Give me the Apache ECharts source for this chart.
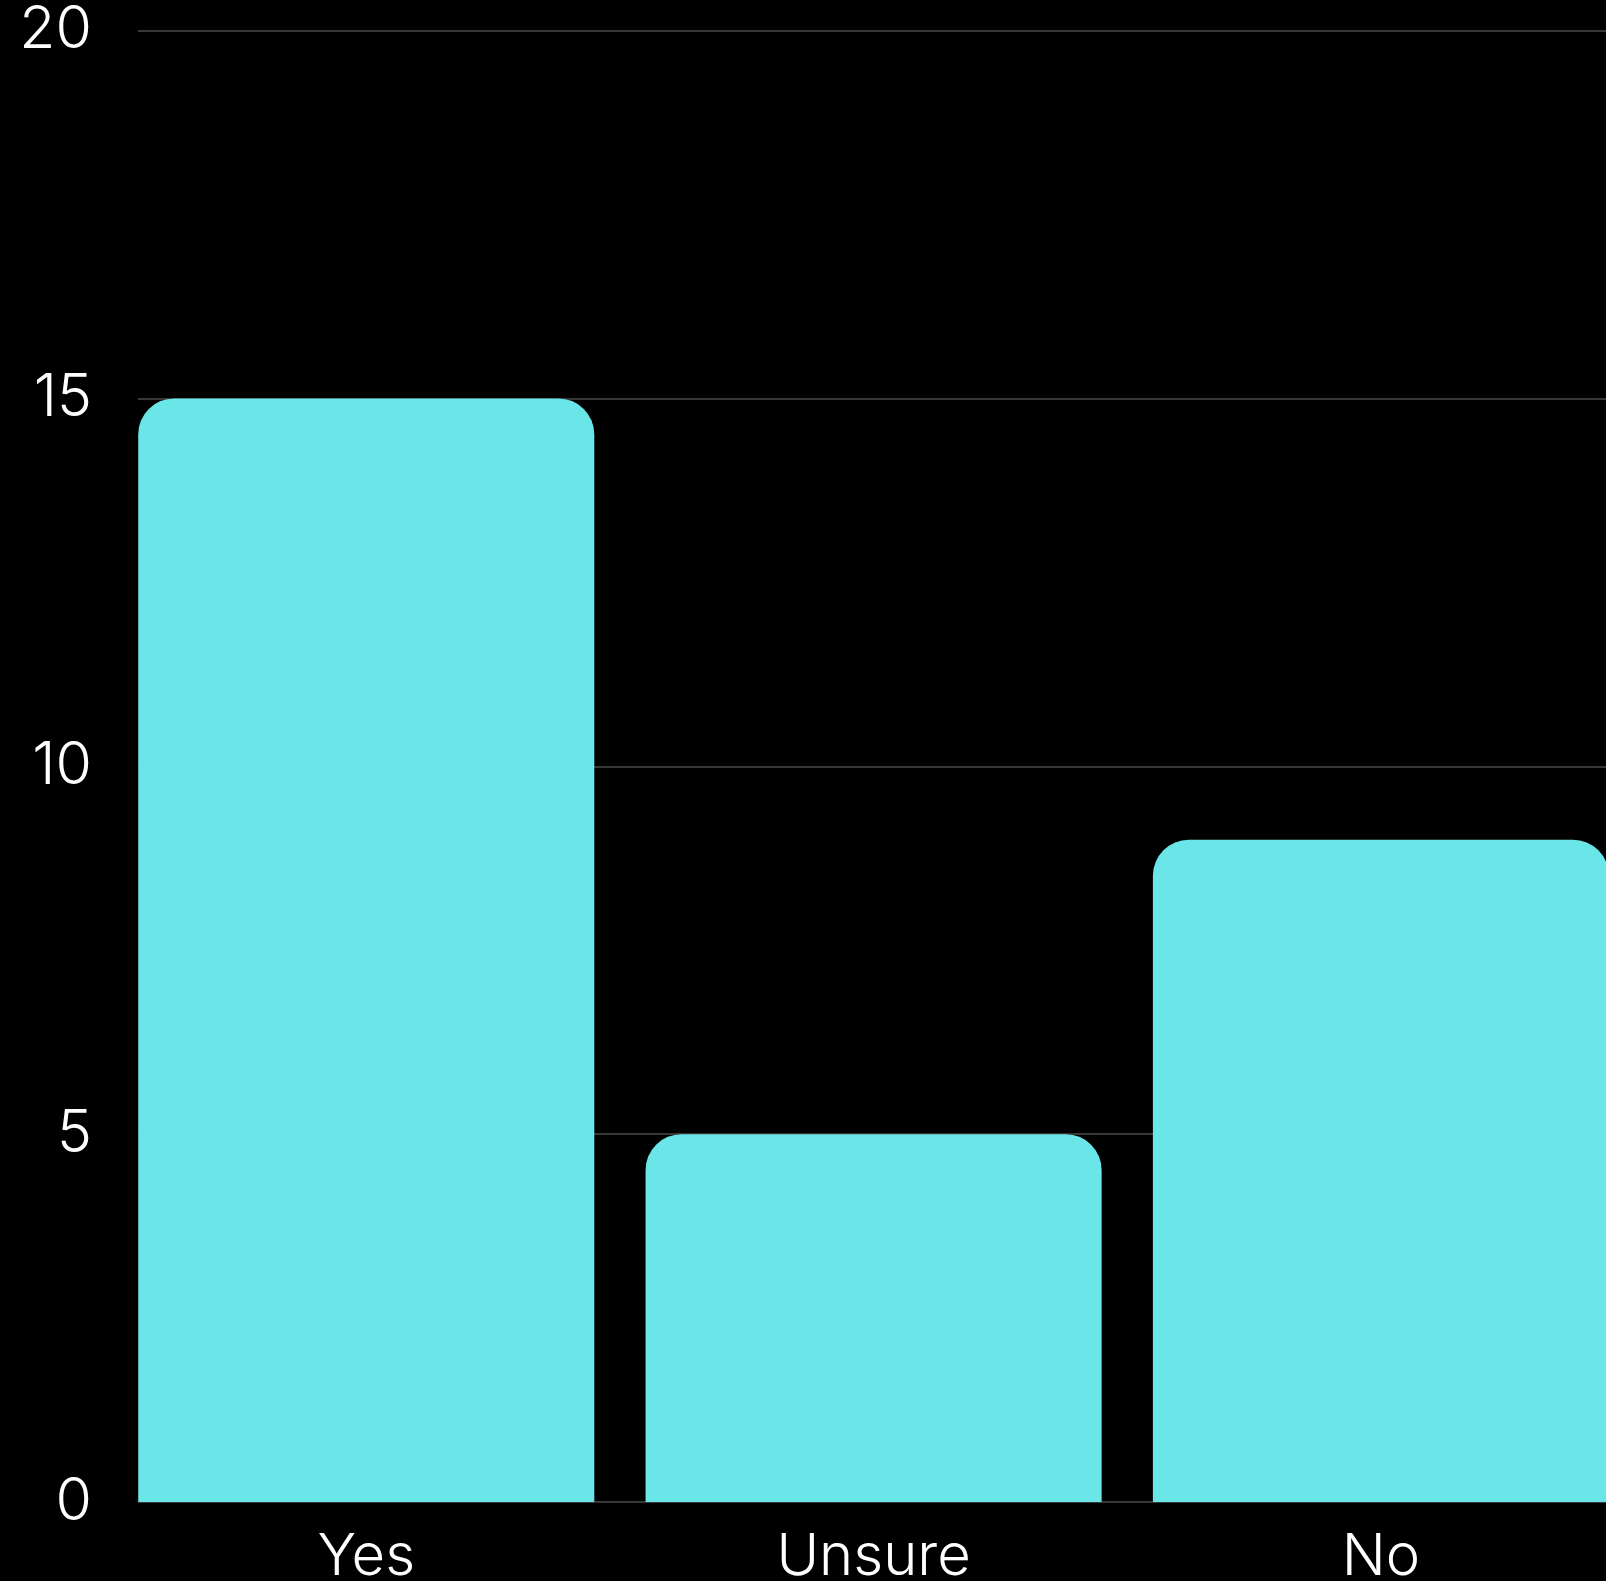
<!DOCTYPE html>
<html>
<head>
<meta charset="utf-8">
<script src="https://cdn.jsdelivr.net/npm/echarts@6/dist/echarts.min.js"></script>
<style>
  html, body { margin: 0; padding: 0; background: #000; overflow: hidden; }
  /* the plot runs past the right edge of the page, so the canvas is wider than the view */
  #chart { width: 1660px; height: 1581px; }
</style>
</head>
<body>
<div id="chart"></div>
<script>
// Survey answers and their counts
const categories = ['Yes', 'Unsure', 'No'];
const counts = [15, 5, 9];
const yTicks = { min: 0, max: 20, interval: 5 };

const FONT = 'Inter';
const chart = echarts.init(document.getElementById('chart'), null, { renderer: 'canvas' });

chart.setOption({
  backgroundColor: '#000000',
  animation: false,
  grid: [
    // bars: category bands start half a gap to the left of the first bar
    { left: 112.6, top: 30.5, width: 1522, height: 1471.5, containLabel: false, outerBoundsMode: 'none' },
    // value scale with its gridlines, starting at the first bar's edge
    { left: 138, top: 30.5, width: 1510, height: 1471.5, containLabel: false, outerBoundsMode: 'none' }
  ],
  xAxis: [
    {
      type: 'category',
      gridIndex: 0,
      data: categories,
      axisLine: { show: false },
      axisTick: { show: false },
      axisLabel: {
        color: '#ffffff',
        fontFamily: FONT,
        fontWeight: 300,
        fontSize: 58,
        margin: 27
      }
    },
    {
      type: 'value',
      gridIndex: 1,
      min: 0,
      max: 1,
      show: false
    }
  ],
  yAxis: [
    {
      type: 'value',
      gridIndex: 0,
      min: yTicks.min,
      max: yTicks.max,
      interval: yTicks.interval,
      show: false
    },
    {
      type: 'value',
      gridIndex: 1,
      min: yTicks.min,
      max: yTicks.max,
      interval: yTicks.interval,
      axisLine: { show: false },
      axisTick: { show: false },
      splitLine: { show: true, lineStyle: { color: '#4a4a4a', width: 1.5 } },
      axisLabel: {
        color: '#ffffff',
        fontFamily: FONT,
        fontWeight: 300,
        fontSize: 59,
        margin: 46,
        padding: [8, 0, 0, 0]
      }
    }
  ],
  series: [
    {
      type: 'bar',
      xAxisIndex: 0,
      yAxisIndex: 0,
      data: counts,
      barCategoryGap: '10.1%',
      clip: false,
      itemStyle: {
        color: '#6be6e8',
        borderRadius: [36, 36, 0, 0]
      }
    }
  ]
});
</script>
</body>
</html>
